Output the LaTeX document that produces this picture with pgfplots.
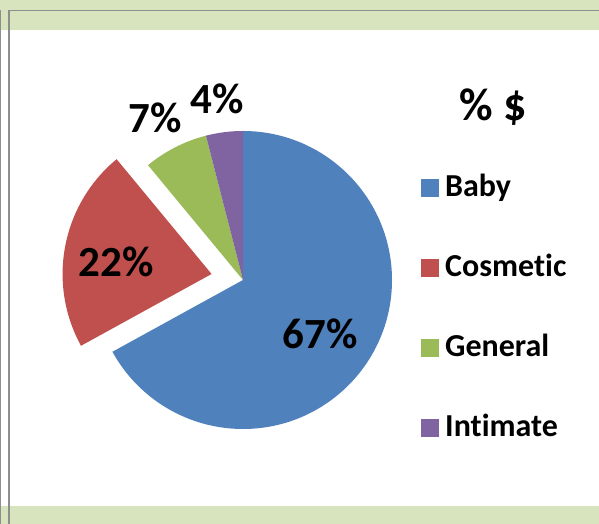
\documentclass[border=0pt]{standalone}
\usepackage{fontspec}
\setmainfont{Carlito}[Ligatures=NoCommon]
\usepackage{pgfplots}
\pgfplotsset{compat=1.18}
\usepackage{pgfplotstable}

\definecolor{baby}{HTML}{4F81BD}
\definecolor{cosm}{HTML}{C0504D}
\definecolor{gen}{HTML}{9BBB59}
\definecolor{intim}{HTML}{8064A2}
\definecolor{band}{HTML}{D7E4BD}
\definecolor{framegray}{HTML}{8E8E8E}

% share of $ by category (percent)
\pgfplotstableread{
name value
Baby 67
Cosmetic 22
General 7
Intimate 4
}\piedata

\begin{document}
\begin{tikzpicture}[x=1pt,y=1pt]
\pgfplotstablegetelem{0}{value}\of\piedata \let\va\pgfplotsretval
\pgfplotstablegetelem{1}{value}\of\piedata \let\vb\pgfplotsretval
\pgfplotstablegetelem{2}{value}\of\piedata \let\vc\pgfplotsretval
\pgfplotstablegetelem{3}{value}\of\piedata \let\vd\pgfplotsretval
% slice boundaries, clockwise from 12 o'clock
\pgfmathsetmacro\aA{90}
\pgfmathsetmacro\aB{\aA-3.6*\va}
\pgfmathsetmacro\aC{\aB-3.6*\vb}
\pgfmathsetmacro\aD{\aC-3.6*\vc}
\pgfmathsetmacro\aE{\aD-3.6*\vd}
% exploded cosmetic slice
\pgfmathsetmacro\mC{(\aB+\aC)/2}
\pgfmathsetmacro\cx{243+32*cos(\mC)}
\pgfmathsetmacro\cy{244+32*sin(\mC)}

\path[use as bounding box] (0,0) rectangle (599,524);
\fill[band] (0,494) rectangle (599,524);
\fill[band] (0,0) rectangle (599,18);
\draw[framegray, line width=1.5pt] (8,513.5) -- (599,513.5);
\draw[framegray, line width=1.3pt] (0.7,0) -- (0.7,514);
\draw[framegray, line width=2pt] (9,0) -- (9,514.2);

\begin{axis}[
    at={(0pt,0pt)}, anchor=south west,
    x=1pt, y=1pt,
    xmin=0, xmax=599, ymin=0, ymax=524,
    hide axis, clip=false,
    legend image code/.code={\fill[#1, draw=none] (0pt,-9pt) rectangle (18pt,9pt);},
    legend cell align=left,
    legend style={draw=none, fill=none, inner sep=0pt, outer sep=0pt,
        at={(axis cs:420.7,345.6)}, anchor=north west,
        row sep=61.7pt,
        nodes={inner sep=0pt, text height=18.3pt, text depth=0pt},
        /tikz/every odd column/.append style={column sep=6.5pt},
        font=\fontsize{32}{38}\selectfont\bfseries},
]
\fill[baby] (axis cs:243,244) -- ++(\aA:149pt) arc[start angle=\aA, end angle=\aB, radius=149pt] -- cycle;
\fill[cosm] (axis cs:\cx,\cy) -- ++(\aB:149pt) arc[start angle=\aB, end angle=\aC, radius=149pt] -- cycle;
\fill[gen] (axis cs:243,244) -- ++(\aC:149pt) arc[start angle=\aC, end angle=\aD, radius=149pt] -- cycle;
\fill[intim] (axis cs:243,244) -- ++(\aD:149pt) arc[start angle=\aD, end angle=\aE, radius=149pt] -- cycle;

\addlegendimage{fill=baby}
\addlegendentry{Baby}
\addlegendimage{fill=cosm}
\addlegendentry{Cosmetic}
\addlegendimage{fill=gen}
\addlegendentry{General}
\addlegendimage{fill=intim}
\addlegendentry{Intimate}

\begin{scope}[every node/.style={font=\fontsize{43}{51}\selectfont\bfseries}]
\node at (axis cs:320,190) {67\%};
\node at (axis cs:116,262) {22\%};
\node at (axis cs:155,406) {7\%};
\node at (axis cs:217,425) {4\%};
\end{scope}
\node[font=\fontsize{46}{54}\selectfont\bfseries] at (axis cs:493,417) {\% \$};
\end{axis}
\end{tikzpicture}
\end{document}
